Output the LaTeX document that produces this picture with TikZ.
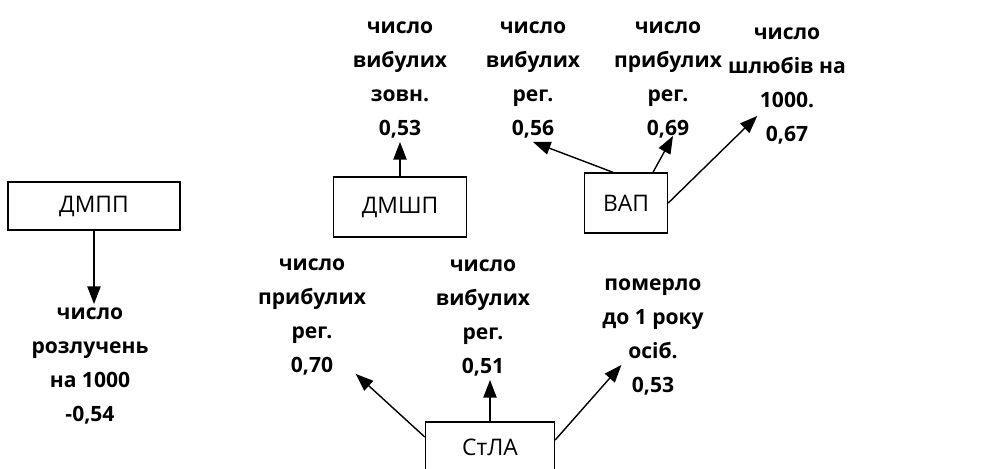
\documentclass[tikz,border=0pt]{standalone}
\usepackage{fontspec}
\setmainfont{Open Sans}
\usetikzlibrary{arrows.meta,calc}
\begin{document}
\begin{tikzpicture}[x=0.02cm,y=-0.02cm,
  box/.style={draw,line width=0.8pt,inner sep=0pt,font=\fontsize{13}{15}\selectfont},
  lbl/.style={align=center,inner sep=2pt,font=\fontsize{12}{19.3}\selectfont\bfseries},
  arr/.style={line width=0.8pt,-{Triangle[length=10pt,width=7.5pt]}}]
  \clip (0,0) rectangle (995,468);
  \node[box,minimum width=3.44cm,minimum height=0.96cm] (dmpp) at (94,206) {ДМПП};
  \node[box,minimum width=2.66cm,minimum height=1.2cm] (dmshp) at (400,207) {ДМШП};
  \node[box,minimum width=1.66cm,minimum height=1.2cm] (vap) at (626,203) {ВАП};
  \node[box,minimum width=2.58cm,minimum height=1cm] (stla) at (490,447) {СтЛА};
  \node[lbl] (l54) at (90,366) {число\\розлучень\\на 1000\\-0,54};
  \node[lbl] (l53z) at (400,80) {число\\вибулих\\зовн.\\0,53};
  \node[lbl] (l56) at (533,80) {число\\вибулих\\рег.\\0,56};
  \node[lbl] (l69) at (668,80) {число\\прибулих\\рег.\\0,69};
  \node[lbl] (l67) at (787,86) {число\\шлюбів на\\1000.\\0,67};
  \node[lbl] (l70) at (312,317) {число\\прибулих\\рег.\\0,70};
  \node[lbl] (l51) at (483,318) {число\\вибулих\\рег.\\0,51};
  \node[lbl] (l53p) at (653,337) {померло\\до 1 року\\осіб.\\0,53};
  \draw[arr] (dmpp.south) -- (l54.north -| dmpp.south);
  \draw[arr] (dmshp.north) -- (dmshp.north |- l53z.south);
  \draw[arr] ($(vap.north)+(-13,0)$) -- ($(l56.south)+(0,0)$);
  \draw[arr] ($(vap.north)+(27,0)$) -- ($(l69.south)+(5,-6)$);
  \draw[arr] (vap.east) -- ($(l67.south west)+(33,-32)$);
  \draw[arr] (stla.north) -- (stla.north |- l51.south);
  \draw[arr] ($(stla.west)+(0,-10)$) -- ($(l70.south east)+(-14,-5)$);
  \draw[arr] ($(stla.east)+(0,-7)$) -- ($(l53p.south west)+(23,-34)$);
\end{tikzpicture}
\end{document}
